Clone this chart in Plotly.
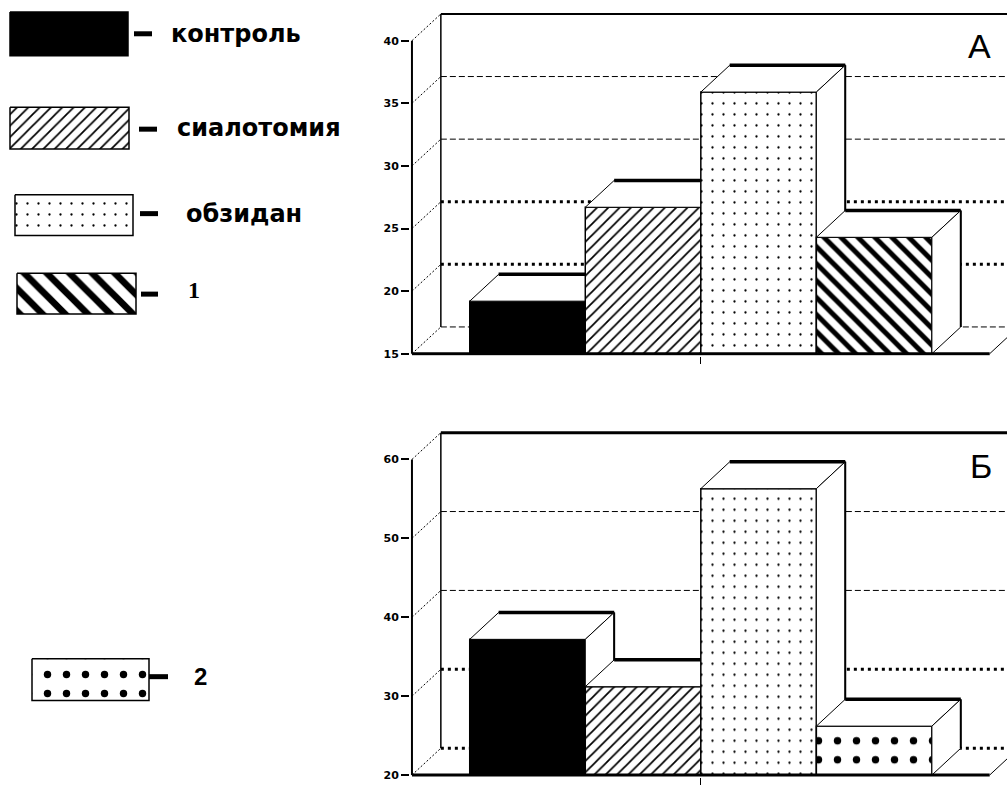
import plotly.graph_objects as go

# ---------------- data ----------------
categories_A = ["контроль", "сиалотомия", "обзидан", "1"]
values_A = [19.2, 26.7, 35.9, 24.3]
ticks_A = [15, 20, 25, 30, 35, 40]

categories_B = ["контроль", "сиалотомия", "обзидан", "2"]
values_B = [37.2, 31.2, 56.3, 26.2]
ticks_B = [20, 30, 40, 50, 60]

panel_labels = ["А", "Б"]
legend_labels = ["контроль", "сиалотомия", "обзидан", "1", "2"]

# ---------------- styles / layout ----------------
W, H = 1007, 787
X0 = -1.0          # front wall (category units)
DX = 0.25          # depth offset in category units
FLOOR_END = 4.0
XR = [-1.017, 4.15]

STYLE = {
    "контроль":   dict(fill="black", shape=""),
    "сиалотомия": dict(fill="white", shape="/", size=8, solidity=0.22),
    "обзидан":    dict(fill="white", shape=".", size=11, solidity=0.035),
    "1":          dict(fill="white", shape="\\", size=12, solidity=0.42),
    "2":          dict(fill="white", shape=".", size=19, solidity=0.12),
}
LEG_SIZE = {"1": 16}

FINE = dict(width=1, dash="6px,3px")
BOLD = dict(width=3, dash="3px,4px")
CONN = dict(width=1, dash="2px,2px")

panels = [
    dict(cats=categories_A, vals=values_A, ticks=ticks_A, xa="x", ya="y",
         base=15, top=40, dy=2.14, pxu=12.6, base_px=356, top_px=10, bot_px=358,
         gstyle={15: FINE, 20: BOLD, 25: BOLD, 30: FINE, 35: FINE}, topw=2,
         label=panel_labels[0], lab=(979, 46)),
    dict(cats=categories_B, vals=values_B, ticks=ticks_B, xa="x2", ya="y2",
         base=20, top=60, dy=3.4, pxu=7.94, base_px=780, top_px=430, bot_px=782,
         gstyle={20: BOLD, 30: BOLD, 40: FINE, 50: FINE}, topw=3,
         label=panel_labels[1], lab=(981, 469)),
]

fig = go.Figure()


def line(xs, ys, xa, ya, width=1, dash="solid", color="black"):
    fig.add_trace(go.Scatter(x=xs, y=ys, xaxis=xa, yaxis=ya, mode="lines",
                             line=dict(color=color, width=width, dash=dash),
                             showlegend=False, hoverinfo="skip"))


def poly(xs, ys, xa, ya, style=None, lw=1):
    style = style or dict(fill="white", shape="")
    kw = {}
    if style.get("shape"):
        kw["fillpattern"] = dict(shape=style["shape"], size=style.get("size", 8),
                                 solidity=style.get("solidity", 0.3),
                                 fgcolor="black", fgopacity=1,
                                 bgcolor=style["fill"])
    fig.add_trace(go.Scatter(x=list(xs) + [xs[0]], y=list(ys) + [ys[0]],
                             xaxis=xa, yaxis=ya, mode="lines", fill="toself",
                             fillcolor=style["fill"],
                             line=dict(color="black", width=lw),
                             showlegend=False, hoverinfo="skip", **kw))


layout_axes = {}
for k, p in enumerate(panels):
    xa, ya, base, top, dy = p["xa"], p["ya"], p["base"], p["top"], p["dy"]
    # back-wall grid lines + connectors
    for v in p["ticks"]:
        if v == top:
            continue
        line([X0 + DX, XR[1] + 1], [v + dy, v + dy], xa, ya, **p["gstyle"][v])
        line([X0, X0 + DX], [v, v + dy], xa, ya, **CONN)
    # top of back wall
    line([X0, X0 + DX], [top, top + dy], xa, ya, **CONN)
    line([X0 + DX, XR[1] + 1], [top + dy, top + dy], xa, ya, width=p["topw"])
    line([X0 + DX, X0 + DX], [base + dy, top + dy], xa, ya, width=1.5)
    # front axis
    line([X0, X0], [base, top], xa, ya, width=2)
    # bars (painter's order, left to right)
    for i, (cat, v) in enumerate(zip(p["cats"], p["vals"])):
        xl, xr = i - 0.5, i + 0.5
        poly([xl, xr, xr, xl], [base, base, v, v], xa, ya, STYLE[cat], lw=1.5)
        poly([xl, xr, xr + DX, xl + DX], [v, v, v + dy, v + dy], xa, ya)
        line([xl + DX, xr + DX], [v + dy, v + dy], xa, ya, width=3.5)
        poly([xr, xr + DX, xr + DX, xr], [base, base + dy, v + dy, v], xa, ya)
        line([xr + DX, xr + DX], [base + dy, v + dy], xa, ya, width=2)
    # floor
    line([X0, FLOOR_END], [base, base], xa, ya, width=3)
    line([FLOOR_END, FLOOR_END + DX], [base, base + dy], xa, ya, width=1)

    # axes
    pxu = p["pxu"]
    yr = [base - (p["bot_px"] - p["base_px"]) / pxu,
          base + (p["base_px"] - p["top_px"]) / pxu]
    ydom = [1 - p["bot_px"] / H, 1 - p["top_px"] / H]
    xname = "xaxis" if k == 0 else "xaxis%d" % (k + 1)
    yname = "yaxis" if k == 0 else "yaxis%d" % (k + 1)
    layout_axes[xname] = dict(domain=[410 / W, 1], range=XR, anchor=ya,
                              tickvals=[1.5], ticks="outside", ticklen=7,
                              tickwidth=1, tickcolor="black",
                              showticklabels=False, showgrid=False,
                              zeroline=False, showline=False, fixedrange=True)
    layout_axes[yname] = dict(domain=ydom, range=yr, anchor=xa,
                              tickvals=p["ticks"], ticktext=[str(t) for t in p["ticks"]],
                              ticks="outside", ticklen=8, tickwidth=2,
                              tickcolor="black", showgrid=False, zeroline=False,
                              showline=False, fixedrange=True,
                              tickfont=dict(family="DejaVu Sans", size=11,
                                            color="black", weight="bold"))

# ---------------- custom legend (pixel-space axis) ----------------
layout_axes["xaxis3"] = dict(domain=[0, 400 / W], range=[0, 400], visible=False,
                             anchor="y3", fixedrange=True)
layout_axes["yaxis3"] = dict(domain=[0, 1], range=[H, 0], visible=False,
                             anchor="x3", fixedrange=True)

legend_pos = [
    # rect x0, x1, y0, y1, dash x0, x1, y, text x, text y
    (10, 128, 12, 56, 134, 152, 34, 169, 34),
    (10, 129, 108, 150, 139, 157, 130, 175, 129),
    (15, 133, 196, 237, 140, 158, 215, 184, 215),
    (17, 136, 275, 316, 141, 158, 296, 186, 292),
    (32, 149, 663, 705, 149, 168, 681, 192, 681),
]
annotations = []
for lab, (rx0, rx1, ry0, ry1, dx0, dx1, dyy, tx, ty) in zip(legend_labels, legend_pos):
    st = dict(STYLE[lab])
    if lab in LEG_SIZE:
        st["size"] = LEG_SIZE[lab]
    poly([rx0, rx1, rx1, rx0], [ry0, ry0, ry1, ry1], "x3", "y3", st, lw=1.5)
    line([dx0, dx1], [dyy, dyy], "x3", "y3", width=5)
    if lab == "1":
        font = dict(family="Liberation Serif", size=24, color="black", weight="bold")
    elif lab == "2":
        font = dict(family="Liberation Sans", size=24, color="black", weight="bold")
    else:
        font = dict(family="DejaVu Sans", size=24, color="black", weight="bold")
    annotations.append(dict(x=tx, y=ty, xref="x3", yref="y3", text=lab,
                            showarrow=False, xanchor="left", yanchor="middle",
                            font=font))

for p in panels:
    annotations.append(dict(x=p["lab"][0] / W, y=1 - p["lab"][1] / H,
                            xref="paper", yref="paper", text=p["label"],
                            showarrow=False, xanchor="center", yanchor="middle",
                            font=dict(family="Liberation Sans", size=34,
                                      color="black")))

fig.update_layout(width=W, height=H, margin=dict(l=0, r=0, t=0, b=0),
                  paper_bgcolor="white", plot_bgcolor="white",
                  showlegend=False, annotations=annotations, **layout_axes)

fig.write_html("out.html")
